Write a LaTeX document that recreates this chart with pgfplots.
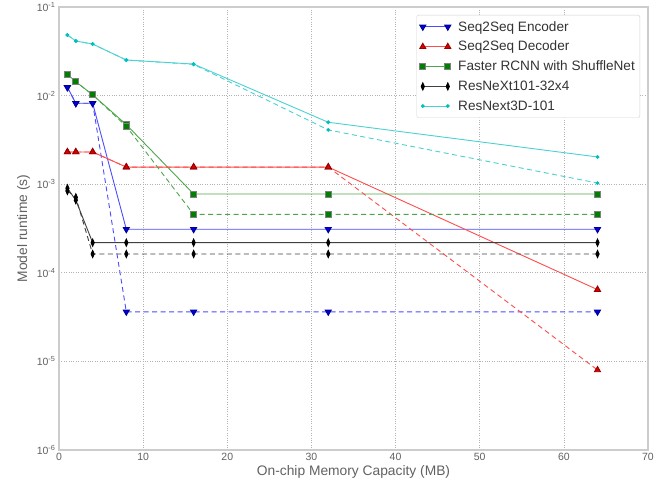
\documentclass[border=0pt]{standalone}
\usepackage{fontspec}
\setmainfont{Liberation Sans}
\usepackage{pgfplots}
\pgfplotsset{compat=1.18}
\definecolor{txt}{gray}{0.38}
\definecolor{bline}{rgb}{0.3,0.3,1}
\definecolor{bmark}{rgb}{0,0,0.85}
\definecolor{rline}{rgb}{1,0.3,0.3}
\definecolor{rmark}{rgb}{0.85,0,0}
\definecolor{gline}{rgb}{0.3,0.65,0.3}
\definecolor{gmark}{rgb}{0,0.5,0}
\definecolor{kline}{rgb}{0.25,0.25,0.25}
\definecolor{cline}{rgb}{0.3,0.82,0.82}
\definecolor{cmark}{rgb}{0,0.75,0.75}
\begin{document}
\begin{tikzpicture}
\useasboundingbox (-59bp,-36bp) rectangle (598bp,450bp);
\begin{axis}[
  scale only axis, width=589bp, height=443bp,
  xmin=0, xmax=70, ymode=log, ymin=1e-6, ymax=1e-1,
  xtick={0,10,...,70},
  ytick={1e-6,1e-5,1e-4,1e-3,1e-2,1e-1},
  yticklabels={10\textsuperscript{-6},10\textsuperscript{-5},10\textsuperscript{-4},10\textsuperscript{-3},10\textsuperscript{-2},10\textsuperscript{-1}},
  yminorticks=false, major tick length=0pt,
  grid=major, grid style={dotted, gray!60, line width=0.7bp},
  axis line style={gray!40, line width=1.3bp},
  /pgf/number format/assume math mode=true,
  tick label style={font=\fontsize{10.5bp}{12bp}\selectfont, text=txt},
  label style={font=\fontsize{13.8bp}{15bp}\selectfont, text=txt},
  xlabel={On-chip Memory Capacity (MB)}, ylabel={Model runtime (s)},
  xlabel style={yshift=2bp},
  legend style={at={(0.9865,0.982)}, anchor=north east, draw=gray!35, rounded corners=2bp, fill=white,
    font=\fontsize{13.6bp}{15bp}\selectfont, text=black!80, row sep=4.6bp, inner xsep=3bp, inner ysep=4bp},
  legend cell align=left,
  legend image code/.code={\draw[mark repeat=2,mark phase=1,#1] plot coordinates {(0bp,0bp)(12.5bp,0bp)(25bp,0bp)};
     \path (-1bp,0bp) (33bp,0bp);},
  every axis plot/.append style={line width=0.9bp},
]
% Seq2Seq Encoder
\addplot[color=bline, mark=triangle*, mark size=3.5bp, mark options={solid, rotate=180, fill=bmark, draw=bmark!70!black}]
 coordinates {(1,0.0124)(2,0.0082)(4,0.0082)(8,3.1e-4)(16,3.1e-4)(32,3.1e-4)(64,3.1e-4)};
\addlegendentry{Seq2Seq Encoder}
% Seq2Seq Decoder
\addplot[color=rline, mark=triangle*, mark size=3.5bp, mark options={solid, fill=rmark, draw=rmark!70!black}]
 coordinates {(1,0.00231)(2,0.00231)(4,0.00231)(8,0.00156)(16,0.00156)(32,0.00156)(64,6.46e-5)};
\addlegendentry{Seq2Seq Decoder}
% Faster RCNN
\addplot[color=gline, mark=square*, mark size=3bp, mark options={solid, fill=gmark, draw=gray}]
 coordinates {(1,0.0174)(2,0.01435)(4,0.0102)(8,0.0047)(16,7.76e-4)(32,7.76e-4)(64,7.76e-4)};
\addlegendentry{Faster RCNN with ShuffleNet}
% ResNeXt101
\addplot[color=kline, mark=diamond*, mark size=3.6bp, mark options={solid, xscale=0.6, fill=black, draw=black}]
 coordinates {(1,9.0e-4)(2,6.6e-4)(4,2.19e-4)(8,2.19e-4)(16,2.19e-4)(32,2.19e-4)(64,2.19e-4)};
\addlegendentry{ResNeXt101-32x4}
% ResNext3D
\addplot[color=cline, mark=*, mark size=1.4bp, mark options={solid, fill=cmark, draw=cmark}]
 coordinates {(1,0.0483)(2,0.0413)(4,0.0382)(8,0.0252)(16,0.0227)(32,0.0050)(64,0.00203)};
\addlegendentry{ResNext3D-101}
% dashed variants
\addplot[forget plot, color=bline, dash pattern=on 5bp off 3.5bp, mark=triangle*, mark size=3.5bp, mark options={solid, rotate=180, fill=bmark, draw=bmark!70!black}]
 coordinates {(1,0.0124)(2,0.0082)(4,0.0082)(8,3.63e-5)(16,3.63e-5)(32,3.63e-5)(64,3.63e-5)};
\addplot[forget plot, color=rline, dash pattern=on 5bp off 3.5bp, mark=triangle*, mark size=3.5bp, mark options={solid, fill=rmark, draw=rmark!70!black}]
 coordinates {(1,0.00231)(2,0.00231)(4,0.00231)(8,0.00156)(16,0.00156)(32,0.00156)(64,8.0e-6)};
\addplot[forget plot, color=gline, dash pattern=on 5bp off 3.5bp, mark=square*, mark size=3bp, mark options={solid, fill=gmark, draw=gray}]
 coordinates {(1,0.0174)(2,0.01435)(4,0.0102)(8,0.0045)(16,4.57e-4)(32,4.57e-4)(64,4.57e-4)};
\addplot[forget plot, color=kline, dash pattern=on 5bp off 3.5bp, mark=diamond*, mark size=3.6bp, mark options={solid, xscale=0.6, fill=black, draw=black}]
 coordinates {(1,8.4e-4)(2,7.1e-4)(4,1.63e-4)(8,1.63e-4)(16,1.63e-4)(32,1.63e-4)(64,1.63e-4)};
\addplot[forget plot, color=cline, dash pattern=on 5bp off 3.5bp, mark=*, mark size=1.4bp, mark options={solid, fill=cmark, draw=cmark}]
 coordinates {(1,0.0483)(2,0.0413)(4,0.0382)(8,0.0252)(16,0.0225)(32,0.0041)(64,0.00103)};
\end{axis}
\end{tikzpicture}
\end{document}
